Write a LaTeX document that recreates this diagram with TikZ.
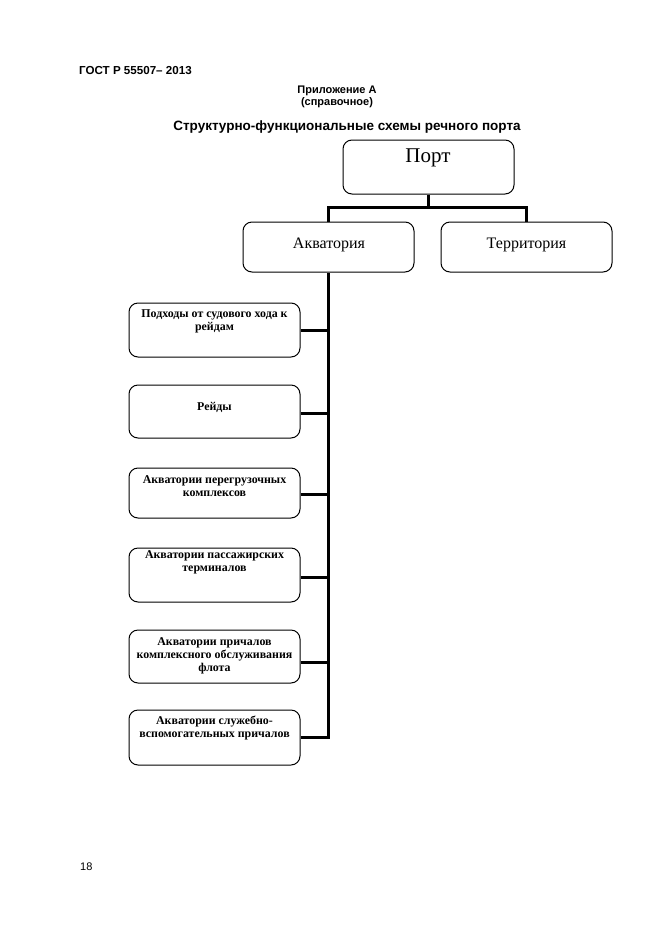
\documentclass[tikz,border=0pt]{standalone}
\usepackage{fontspec}
\setmainfont{Liberation Serif}
\newfontfamily\arialfont{Liberation Sans}
\begin{document}
\begin{tikzpicture}[x=1pt,y=-1pt,
  box/.style={draw, line width=1pt, rounded corners=9pt, inner sep=0pt},
  bigbox/.style={box, minimum width=171pt, minimum height=54pt},
  midbox/.style={box, minimum width=171pt, minimum height=50pt},
  smallbox/.style={box, minimum width=171pt, minimum height=54pt},
  conn/.style={line width=3pt},
  smalltext/.style={font=\fontsize{11.9}{13}\selectfont\bfseries, align=center, inner sep=0pt},
  head/.style={font=\arialfont\bfseries\fontsize{11}{12.5}\selectfont, inner sep=0pt},
]
\useasboundingbox (0,0) rectangle (661,935);
% header texts
\node[head, anchor=west, font=\arialfont\bfseries\fontsize{11.6}{13}\selectfont] (gost) at (79,71) {ГОСТ Р 55507– 2013};
\node[head, align=center] (app) at (337,97) {Приложение А\\(справочное)};
\node[head, font=\arialfont\bfseries\fontsize{13.5}{15}\selectfont] (title) at (347,127) {Структурно-функциональные схемы речного порта};
\node[font=\arialfont\fontsize{11}{13}\selectfont, anchor=west, inner sep=0pt] (pnum) at (80,867) {18};

% top boxes
\node[bigbox] (port) at (428.5,167) {};
\node[font=\fontsize{21}{24}\selectfont, inner sep=0pt] (porttext) at (428,158) {Порт};
\node[midbox] (akv) at (328.5,247) {};
\node[font=\fontsize{16}{19}\selectfont, inner sep=0pt] (akvtext) at (329,245) {Акватория};
\node[midbox] (terr) at (526.5,247) {};
\node[font=\fontsize{16}{19}\selectfont, inner sep=0pt] (terrtext) at (526.5,245) {Территория};

% small boxes
\node[smallbox] (b1) at (214.5,330) {};
\node[smalltext] (t1) at (214.5,321.5) {Подходы от судового хода к\\рейдам};
\node[smallbox, minimum height=53pt] (b2) at (214.5,411.5) {};
\node[smalltext] (t2) at (214.5,407) {Рейды};
\node[smallbox, minimum height=50pt] (b3) at (214.5,493) {};
\node[smalltext] (t3) at (214.5,486) {Акватории перегрузочных\\комплексов};
\node[smallbox] (b4) at (214.5,575) {};
\node[smalltext] (t4) at (214.5,562.5) {Акватории пассажирских\\терминалов};
\node[smallbox, minimum height=53pt] (b5) at (214.5,656.5) {};
\node[smalltext] (t5) at (214.5,656) {Акватории причалов\\комплексного обслуживания\\флота};
\node[smallbox, minimum height=55pt] (b6) at (214.5,737.5) {};
\node[smalltext] (t6) at (214.5,727.5) {Акватории служебно-\\вспомогательных причалов};

% connectors
\coordinate (bar) at (428.5,207);
\draw[conn] (port.south) -- (bar);
\draw[conn] (akv.north) |- (bar) -| (terr.north);
\draw[conn] ([yshift=0.5pt]b6.east) -| (akv.south);
\draw[conn] (b1.east) -- (b1.east -| akv.south);
\draw[conn] ([yshift=-1.5pt]b2.east) -- ([yshift=-1.5pt]b2.east -| akv.south);
\draw[conn] ([yshift=-1pt]b3.east) -- ([yshift=-1pt]b3.east -| akv.south);
\draw[conn] ([yshift=-2pt]b4.east) -- ([yshift=-2pt]b4.east -| akv.south);
\draw[conn] ([yshift=-5.5pt]b5.east) -- ([yshift=-5.5pt]b5.east -| akv.south);
\end{tikzpicture}
\end{document}
